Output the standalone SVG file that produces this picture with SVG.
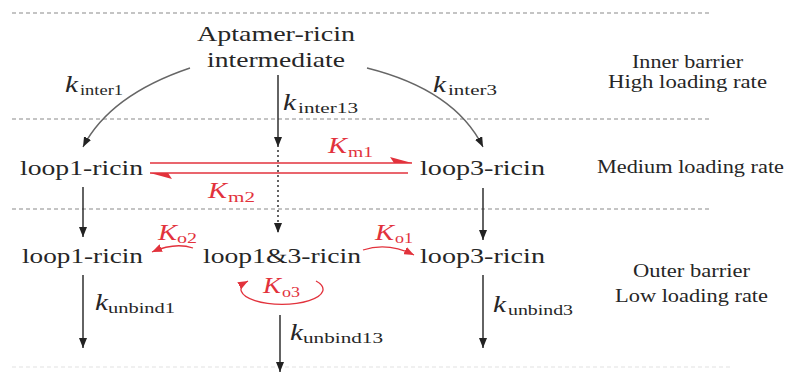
<svg xmlns="http://www.w3.org/2000/svg" width="786" height="376" viewBox="0 0 786 376">
<defs>
<style>
.t{font-family:"Liberation Serif","Times New Roman",serif;fill:#262626}
.n{font-size:22px}
.s{font-size:18px}
.k{font-size:23px;font-style:italic}
.b{font-size:15px}
.r{fill:#e2323c}
.dash{stroke:#8a8a8a;stroke-width:1.2;stroke-dasharray:4 3;fill:none}
.arr{stroke:#222;stroke-width:1.4;fill:none;marker-end:url(#ah)}
.cur{stroke:#666;stroke-width:1.4;fill:none;marker-end:url(#ah)}
.rl{stroke:#e2323c;stroke-width:1.3;fill:none}
.ra{stroke:#e2323c;stroke-width:1.3;fill:none;marker-end:url(#rh)}
</style>
<marker id="ah" markerUnits="userSpaceOnUse" markerWidth="10" markerHeight="8" refX="10" refY="4" orient="auto"><path d="M0,0 L10,4 L0,8 z" fill="#222"/></marker>
<marker id="rh" markerUnits="userSpaceOnUse" markerWidth="10" markerHeight="8" refX="10" refY="4" orient="auto"><path d="M0,0 L10,4 L0,8 z" fill="#e2323c"/></marker>
</defs>
<rect width="786" height="376" fill="#fff"/>
<g id="barriers">
<line class="dash" x1="12" y1="13" x2="712" y2="13"/>
<line class="dash" x1="12" y1="119" x2="712" y2="119"/>
<line class="dash" x1="12" y1="209" x2="712" y2="209"/>
<line class="dash" x1="12" y1="367" x2="730" y2="367" style="stroke:#e2e2e2"/>
</g>
<g id="connectors">
<path class="cur" d="M190,68 Q110,95 83,147"/>
<path class="cur" d="M367,68 Q455,90 483,147"/>
<line class="arr" x1="278" y1="75" x2="278" y2="147"/>
<line class="arr" x1="278" y1="150" x2="278" y2="233" style="stroke-dasharray:2 3"/>
<line class="rl" x1="150" y1="163" x2="412" y2="163"/>
<polygon points="412,163 390,157 394,163" fill="#e2323c"/>
<line class="rl" x1="150" y1="173" x2="408" y2="173"/>
<polygon points="150,173 172,179 168,173" fill="#e2323c"/>
<line class="arr" x1="83" y1="187" x2="83" y2="237"/>
<line class="arr" x1="483" y1="188" x2="483" y2="240"/>
<path class="ra" d="M193,248 Q175,242 152,252"/>
<path class="ra" d="M363,250 Q388,242 414,255"/>
<path class="ra" d="M316,281 A41,15 0 1 1 248,281"/>
<line class="arr" x1="83" y1="275" x2="83" y2="348"/>
<line class="arr" x1="280" y1="315" x2="280" y2="372"/>
<line class="arr" x1="483" y1="275" x2="483" y2="348"/>
</g>
<g id="intermediate">
<text class="t n" x="197" y="41" textLength="158" lengthAdjust="spacingAndGlyphs">Aptamer-ricin</text>
<text class="t n" x="207" y="67" textLength="138" lengthAdjust="spacingAndGlyphs">intermediate</text>
</g>
<g id="loop1-ricin-mid"><text class="t n" x="20" y="175" textLength="123" lengthAdjust="spacingAndGlyphs">loop1-ricin</text></g>
<g id="loop3-ricin-mid"><text class="t n" x="420" y="175" textLength="125" lengthAdjust="spacingAndGlyphs">loop3-ricin</text></g>
<g id="loop1-ricin-out"><text class="t n" x="22" y="263" textLength="121" lengthAdjust="spacingAndGlyphs">loop1-ricin</text></g>
<g id="loop13-ricin"><text class="t n" x="203" y="263" textLength="158" lengthAdjust="spacingAndGlyphs">loop1&amp;3-ricin</text></g>
<g id="loop3-ricin-out"><text class="t n" x="420" y="263" textLength="125" lengthAdjust="spacingAndGlyphs">loop3-ricin</text></g>
<g id="side-labels">
<text class="t s" x="632" y="68" textLength="111" lengthAdjust="spacingAndGlyphs">Inner barrier</text>
<text class="t s" x="608" y="88" textLength="159" lengthAdjust="spacingAndGlyphs">High loading rate</text>
<text class="t s" x="597" y="173" textLength="187" lengthAdjust="spacingAndGlyphs">Medium loading rate</text>
<text class="t s" x="633" y="277" textLength="117" lengthAdjust="spacingAndGlyphs">Outer barrier</text>
<text class="t s" x="615" y="302" textLength="153" lengthAdjust="spacingAndGlyphs">Low loading rate</text>
</g>
<g id="rate-labels">
<text class="t k" x="65" y="92" textLength="13" lengthAdjust="spacingAndGlyphs">k</text><text class="t b" x="80" y="95" textLength="43" lengthAdjust="spacingAndGlyphs">inter1</text>
<text class="t k" x="283" y="110" textLength="13" lengthAdjust="spacingAndGlyphs">k</text><text class="t b" x="298" y="113" textLength="60" lengthAdjust="spacingAndGlyphs">inter13</text>
<text class="t k" x="433" y="92" textLength="13" lengthAdjust="spacingAndGlyphs">k</text><text class="t b" x="448" y="95" textLength="49" lengthAdjust="spacingAndGlyphs">inter3</text>
<text class="t k r" x="328" y="153" textLength="19" lengthAdjust="spacingAndGlyphs">K</text><text class="t b r" x="348" y="157" textLength="25" lengthAdjust="spacingAndGlyphs">m1</text>
<text class="t k r" x="208" y="198" textLength="19" lengthAdjust="spacingAndGlyphs">K</text><text class="t b r" x="228" y="202" textLength="27" lengthAdjust="spacingAndGlyphs">m2</text>
<text class="t k r" x="158" y="240" textLength="19" lengthAdjust="spacingAndGlyphs">K</text><text class="t b r" x="177" y="243" textLength="20" lengthAdjust="spacingAndGlyphs">o2</text>
<text class="t k r" x="375" y="240" textLength="19" lengthAdjust="spacingAndGlyphs">K</text><text class="t b r" x="395" y="243" textLength="18" lengthAdjust="spacingAndGlyphs">o1</text>
<text class="t k r" x="263" y="293" textLength="18" lengthAdjust="spacingAndGlyphs">K</text><text class="t b r" x="282" y="297" textLength="18" lengthAdjust="spacingAndGlyphs">o3</text>
<text class="t k" x="95" y="310" textLength="13" lengthAdjust="spacingAndGlyphs">k</text><text class="t b" x="108" y="313" textLength="67" lengthAdjust="spacingAndGlyphs">unbind1</text>
<text class="t k" x="290" y="340" textLength="13" lengthAdjust="spacingAndGlyphs">k</text><text class="t b" x="303" y="343" textLength="80" lengthAdjust="spacingAndGlyphs">unbind13</text>
<text class="t k" x="493" y="312" textLength="13" lengthAdjust="spacingAndGlyphs">k</text><text class="t b" x="508" y="315" textLength="65" lengthAdjust="spacingAndGlyphs">unbind3</text>
</g>
</svg>
